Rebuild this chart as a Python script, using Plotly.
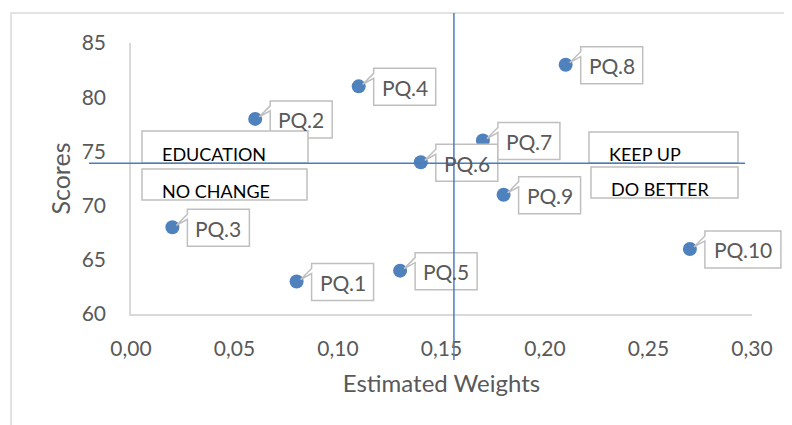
import plotly.graph_objects as go

# ---- data ----
labels = ["PQ.1", "PQ.2", "PQ.3", "PQ.4", "PQ.5", "PQ.6", "PQ.7", "PQ.8", "PQ.9", "PQ.10"]
weights = [0.08, 0.06, 0.02, 0.11, 0.13, 0.14, 0.17, 0.21, 0.18, 0.27]
scores = [63, 78, 68, 81, 64, 74, 76, 83, 71, 66]

x_title = "Estimated Weights"
y_title = "Scores"
quadrant_names = ["EDUCATION", "NO CHANGE", "KEEP UP", "DO BETTER"]

weight_threshold = 0.156
score_threshold = 73.9

XMIN, XMAX, XSTEP = 0.0, 0.30, 0.05
YMIN, YMAX, YSTEP = 60, 85, 5

# ---- styles ----
FONT = "Lato"
GRAY_TXT = "#595959"
BLUE = "#4F81BD"
LINE_BLUE = "#4A7EBB"
BOX_GRAY = "#BFBFBF"

fig = go.Figure()
fig.add_trace(go.Scatter(
    x=weights, y=scores, mode="markers",
    marker=dict(size=14, color=BLUE),
    hoverinfo="skip", showlegend=False, cliponaxis=False,
))

shapes = []
annotations = []

# outer chart border (cropped at right/bottom)
shapes.append(dict(type="rect", xref="paper", yref="paper",
                   x0=-0.1932, x1=1.3, y0=-0.6, y1=1.1107,
                   line=dict(color="#D9D9D9", width=1.5), fillcolor="rgba(0,0,0,0)",
                   layer="below"))

# callouts for data labels
for lab, w, s in zip(labels, weights, scores):
    bw = 62 if len(lab) <= 4 else 76
    gap = 15
    # screen coords (y down) relative to marker centre
    pts = [(gap, -18), (gap + bw, -18), (gap + bw, 19), (gap, 19), (gap, -8),
           (4, -2), (gap, -13)]
    path = "M " + " L ".join(f"{px},{-py}" for px, py in pts) + " Z"
    shapes.append(dict(type="path", xref="x domain", yref="y domain",
                       xsizemode="pixel", ysizemode="pixel",
                       xanchor=(w - XMIN) / (XMAX - XMIN),
                       yanchor=(s - YMIN) / (YMAX - YMIN),
                       path=path, fillcolor="white",
                       line=dict(color=BOX_GRAY, width=1.5), layer="above"))
    annotations.append(dict(x=w, y=s, xref="x", yref="y", text=lab,
                            showarrow=False, xshift=gap + bw / 2, yshift=-1,
                            font=dict(family=FONT, size=21, color=GRAY_TXT)))

# quadrant boxes (paper coords)
qboxes = [(0.0177, 0.285, 0.5572, 0.6753),
          (0.0177, 0.2834, 0.4207, 0.535),
          (0.7375, 0.9775, 0.5572, 0.6716),
          (0.7407, 0.9775, 0.428, 0.5424)]
for name, (x0, x1, y0, y1) in zip(quadrant_names, qboxes):
    shapes.append(dict(type="rect", xref="paper", yref="paper",
                       x0=x0, x1=x1, y0=y0, y1=y1, fillcolor="white",
                       line=dict(color=BOX_GRAY, width=1.5), layer="above"))
    annotations.append(dict(x=x0, y=y0, xref="paper", yref="paper", text=name,
                            showarrow=False, xanchor="left", yanchor="bottom",
                            xshift=18, yshift=-4,
                            font=dict(family=FONT, size=18, color="black")))

# threshold lines
shapes.append(dict(type="line", xref="x", yref="paper",
                   x0=weight_threshold, x1=weight_threshold, y0=-0.17, y1=1.1107,
                   line=dict(color=LINE_BLUE, width=1.5), layer="above"))
shapes.append(dict(type="line", xref="paper", yref="y",
                   x0=-0.0676, x1=0.9887, y0=score_threshold, y1=score_threshold,
                   line=dict(color=LINE_BLUE, width=1.5), layer="above"))

fig.update_layout(
    width=792, height=425,
    margin=dict(l=123, r=48, t=35, b=119),
    paper_bgcolor="white", plot_bgcolor="white",
    separators=",.",
    shapes=shapes, annotations=annotations,
    xaxis=dict(range=[XMIN, XMAX], dtick=XSTEP, tick0=0, tickformat=".2f",
               showgrid=False, zeroline=False, showline=True,
               linecolor="#D9D9D9", linewidth=1.5, ticks="",
               ticklabelstandoff=15,
               tickfont=dict(family=FONT, size=21, color=GRAY_TXT),
               title=dict(text=x_title, standoff=16,
                          font=dict(family=FONT, size=24, color=GRAY_TXT))),
    yaxis=dict(range=[YMIN, YMAX], dtick=YSTEP, tick0=0,
               showgrid=False, zeroline=False, showline=True,
               linecolor="#D9D9D9", linewidth=1.5, ticks="",
               ticklabelstandoff=19,
               tickfont=dict(family=FONT, size=21, color=GRAY_TXT),
               title=dict(text=y_title, standoff=4,
                          font=dict(family=FONT, size=25, color=GRAY_TXT))),
)

fig.write_html("out.html")
